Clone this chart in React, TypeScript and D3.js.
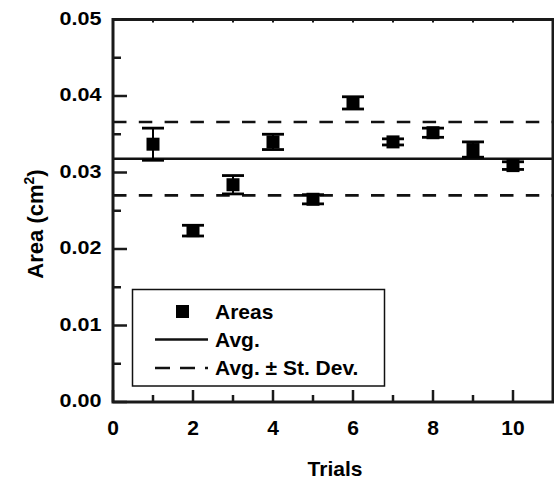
import React from "react";
import * as d3 from "d3";

const trials = [1, 2, 3, 4, 5, 6, 7, 8, 9, 10];
const areas = [0.0337, 0.0224, 0.0284, 0.034, 0.0265, 0.0391, 0.034, 0.0352, 0.033, 0.0309];
const errors = [0.0021, 0.0007, 0.0012, 0.001, 0.0006, 0.0008, 0.0004, 0.0006, 0.001, 0.0005];
const avgValue = 0.0318;
const stDev = 0.0048;
const xTicks = [0, 2, 4, 6, 8, 10];
const xMinorTicks = [1, 3, 5, 7, 9];
const yTicks = [0, 0.01, 0.02, 0.03, 0.04, 0.05];
const yMinorTicks = [0.005, 0.015, 0.025, 0.035, 0.045];
const legendItems = ["Areas", "Avg.", "Avg. \u00b1 St. Dev."];

const W = 554;
const H = 479;
const left = 113;
const right = 553;
const top = 19.5;
const bottom = 402;
const FONT = "Arial, 'Liberation Sans', Helvetica, sans-serif";

export default function App() {
  const x = d3.scaleLinear().domain([0, 11]).range([left, right]);
  const y = d3.scaleLinear().domain([0, 0.05]).range([bottom, top]);
  const lineGen = d3.line<[number, number]>().x((d) => x(d[0])).y((d) => y(d[1]));
  const hLine = (v: number) => lineGen([[0, v], [11, v]]) || "";
  const sq = 13;
  const cap = 11;

  const lgX = 132.5, lgY = 289.5, lgW = 252, lgH = 96.5;
  const rows = [lgY + 22, lgY + 50, lgY + 78.5];

  return (
    <svg width={W} height={H} style={{ position: "absolute", left: 0, top: 0, background: "#fff" }}>
      <rect x={0} y={0} width={W} height={H} fill="#fff" />
      {/* reference lines */}
      <path d={hLine(avgValue)} stroke="#111" strokeWidth={2.7} fill="none" />
      <path d={hLine(avgValue + stDev)} stroke="#111" strokeWidth={2.7} fill="none" strokeDasharray="13.5 12.3" />
      <path d={hLine(avgValue - stDev)} stroke="#111" strokeWidth={2.7} fill="none" strokeDasharray="13.5 12.3" />

      {/* error bars and points */}
      {trials.map((t, i) => {
        const cx = x(t);
        const yt = y(areas[i] + errors[i]);
        const yb = y(areas[i] - errors[i]);
        return (
          <g key={t}>
            <line x1={cx} x2={cx} y1={yt} y2={yb} stroke="#000" strokeWidth={2} />
            <line x1={cx - cap} x2={cx + cap} y1={yt} y2={yt} stroke="#000" strokeWidth={2.8} />
            <line x1={cx - cap} x2={cx + cap} y1={yb} y2={yb} stroke="#000" strokeWidth={2.8} />
            <rect x={cx - sq / 2} y={y(areas[i]) - sq / 2} width={sq} height={sq} fill="#000" />
          </g>
        );
      })}

      {/* frame */}
      <rect x={left} y={top} width={right - left} height={bottom - top} fill="none" stroke="#1a1a1a" strokeWidth={3} />

      {/* x ticks */}
      {xTicks.map((t) => (
        <g key={"xt" + t}>
          <line x1={x(t)} x2={x(t)} y1={bottom} y2={bottom - 12} stroke="#1a1a1a" strokeWidth={2.5} />
          <line x1={x(t)} x2={x(t)} y1={top} y2={top + 3} stroke="#1a1a1a" strokeWidth={2} />
          <text x={x(t)} y={434.5} textAnchor="middle" fontFamily={FONT} fontWeight="bold" fontSize={21} fill="#000">
            {t}
          </text>
        </g>
      ))}
      {xMinorTicks.map((t) => (
        <g key={"xm" + t}>
          <line x1={x(t)} x2={x(t)} y1={bottom} y2={bottom - 7} stroke="#1a1a1a" strokeWidth={2.5} />
          <line x1={x(t)} x2={x(t)} y1={top} y2={top + 3} stroke="#1a1a1a" strokeWidth={2} />
        </g>
      ))}

      {/* y ticks */}
      {yTicks.map((t) => (
        <g key={"yt" + t}>
          <line x1={left} x2={left + 14} y1={y(t)} y2={y(t)} stroke="#1a1a1a" strokeWidth={2.5} />
          <text
            x={101.5}
            y={y(t) + 5}
            textAnchor="end"
            fontFamily={FONT}
            fontWeight="bold"
            fontSize={18}
            textLength={42}
            lengthAdjust="spacingAndGlyphs"
            fill="#000"
          >
            {t.toFixed(2)}
          </text>
        </g>
      ))}
      {yMinorTicks.map((t) => (
        <line key={"ym" + t} x1={left} x2={left + 8} y1={y(t)} y2={y(t)} stroke="#1a1a1a" strokeWidth={2.5} />
      ))}

      {/* axis titles */}
      <text x={335} y={476} textAnchor="middle" fontFamily={FONT} fontWeight="bold" fontSize={21} fill="#000">
        Trials
      </text>
      <text
        transform={`translate(43, 224) rotate(-90)`}
        textAnchor="middle"
        fontFamily={FONT}
        fontWeight="bold"
        fontSize={22}
        fill="#000"
      >
        Area (cm
        <tspan dy={-9} fontSize={14}>2</tspan>
        <tspan dy={9}>)</tspan>
      </text>

      {/* legend */}
      <rect x={lgX} y={lgY} width={lgW} height={lgH} fill="#fff" stroke="#111" strokeWidth={1.5} />
      <rect x={182.5 - 6.5} y={rows[0] - 6.5} width={13} height={13} fill="#000" />
      <line x1={155} x2={208} y1={rows[1]} y2={rows[1]} stroke="#111" strokeWidth={2.7} />
      <line x1={155} x2={208} y1={rows[2]} y2={rows[2]} stroke="#111" strokeWidth={2.7} strokeDasharray="15 10" />
      {legendItems.map((s, i) => (
        <text key={s} x={215} y={rows[i] + 7} fontFamily={FONT} fontWeight="bold" fontSize={21} fill="#000">
          {s}
        </text>
      ))}
    </svg>
  );
}
